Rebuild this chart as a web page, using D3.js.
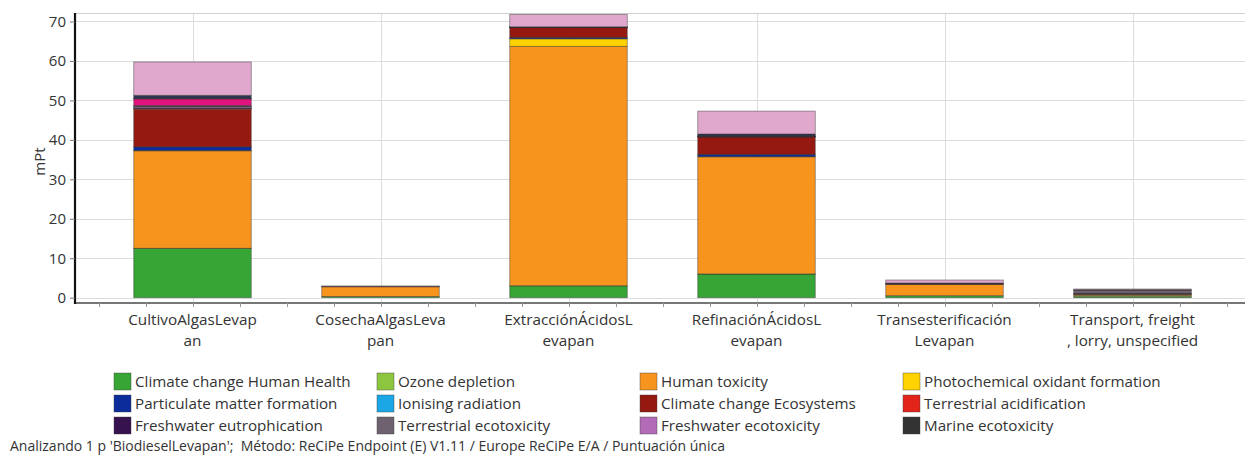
<!DOCTYPE html>
<html>
<head>
<meta charset="utf-8">
<script src="https://cdn.jsdelivr.net/npm/d3@7"></script>
<style>
    body { margin: 0; background: #fff; }
    text { font-family: "Segoe UI", "Open Sans", "Noto Sans", sans-serif; fill: #333; }
</style>
</head>
<body>
<div id="chart"></div>
<script>
// processes (x axis), two-line labels as SimaPro wraps them
var categories = ["CultivoAlgasLevapan", "CosechaAlgasLevapan", "ExtracciónÁcidosLevapan",
    "RefinaciónÁcidosLevapan", "TransesterificaciónLevapan", "Transport, freight, lorry, unspecified"];
var categoryLabels = [
    ["CultivoAlgasLevap", "an"],
    ["CosechaAlgasLeva", "pan"],
    ["ExtracciónÁcidosL", "evapan"],
    ["RefinaciónÁcidosL", "evapan"],
    ["Transesterificación", "Levapan"],
    ["Transport, freight", ", lorry, unspecified"]
];

// impact categories, bottom to top of the stack
var impactNames = ["Climate change Human Health", "Ozone depletion", "Human toxicity",
    "Photochemical oxidant formation", "Particulate matter formation", "Ionising radiation",
    "Climate change Ecosystems", "Terrestrial acidification", "Freshwater eutrophication",
    "Terrestrial ecotoxicity", "Freshwater ecotoxicity", "Marine ecotoxicity",
    "Agricultural land occupation", "Urban land occupation", "Natural land transformation",
    "Metal depletion", "Fossil depletion"];
var impactColors = ["#37a535", "#8cc63f", "#f7941e", "#ffd200", "#0c2c9c", "#1ba6e6",
    "#951811", "#e3241b", "#36124f", "#6e6170", "#b36bb7", "#333333",
    "#e0147c", "#4f5a7a", "#2f3d5e", "#2b3450", "#e1a8cd"];
// only the first 12 are shown in the legend (the rest is cut off in the original)
var legendCount = 12;

// mPt, one value per process
var ccHumanHealth   = [12.5, 0.30, 3.00, 6.00, 0.50, 0.25];
var ozoneDepletion  = [0.02, 0.00, 0.02, 0.02, 0.00, 0.30];
var humanToxicity   = [24.7, 2.45, 60.68, 29.68, 2.85, 0.30];
var photochemical   = [0.10, 0.00, 1.90, 0.05, 0.00, 0.00];
var particulate     = [0.90, 0.05, 0.30, 0.55, 0.05, 0.05];
var ionising        = [0.02, 0.00, 0.02, 0.02, 0.00, 0.00];
var ccEcosystems    = [9.50, 0.10, 2.50, 4.40, 0.15, 0.10];
var terrAcid        = [0.20, 0.00, 0.05, 0.05, 0.00, 0.05];
var fwEutroph       = [0.10, 0.00, 0.02, 0.02, 0.00, 0.05];
var terrEcotox      = [0.10, 0.00, 0.02, 0.02, 0.03, 0.70];
var fwEcotox        = [0.30, 0.00, 0.03, 0.05, 0.00, 0.10];
var marineEcotox    = [0.25, 0.00, 0.02, 0.04, 0.00, 0.10];
var agriLand        = [1.70, 0.00, 0.02, 0.05, 0.00, 0.00];
var urbanLand       = [0.05, 0.00, 0.01, 0.02, 0.00, 0.00];
var naturalLand     = [0.05, 0.00, 0.01, 0.02, 0.00, 0.00];
var metalDepletion  = [0.80, 0.00, 0.05, 0.50, 0.15, 0.00];
var fossilDepletion = [8.45, 0.06, 3.15, 5.80, 0.75, 0.20];

var seriesValues = [ccHumanHealth, ozoneDepletion, humanToxicity, photochemical, particulate,
    ionising, ccEcosystems, terrAcid, fwEutroph, terrEcotox, fwEcotox, marineEcotox,
    agriLand, urbanLand, naturalLand, metalDepletion, fossilDepletion];

var yTicks = [0, 10, 20, 30, 40, 50, 60, 70];
var footer = "Analizando 1 p 'BiodieselLevapan';  Método: ReCiPe Endpoint (E) V1.11 / Europe ReCiPe E/A / Puntuación única";

var width = 1248;
var height = 462;

var plot = { left: 75, right: 1245, top: 13, bottom: 303 };

var svg = d3.select("#chart")
    .append("svg")
    .attr("width", width)
    .attr("height", height);

// one row per process for the stack
var table = categories.map(function(c, i) {
    var row = { category: c };
    impactNames.forEach(function(n, j) {
        row[n] = seriesValues[j][i];
    });
    return row;
});

var stack = d3.stack().keys(impactNames);
var layers = stack(table);

var xScale = d3.scaleBand()
    .domain(categories)
    .range([98.5, 1226.5])
    .paddingInner(0.375)
    .paddingOuter(0.1875);

var yScale = d3.scaleLinear()
    .domain([-1.35, 72.15])
    .range([plot.bottom, plot.top]);

var colour = d3.scaleOrdinal()
    .domain(impactNames)
    .range(impactColors);

// grid
svg.append("g")
    .selectAll("line")
    .data(yTicks)
    .enter()
    .append("line")
    .attr("x1", plot.left)
    .attr("x2", plot.right)
    .attr("y1", function(d) { return Math.round(yScale(d)) + 0.5; })
    .attr("y2", function(d) { return Math.round(yScale(d)) + 0.5; })
    .attr("stroke", "#dcdcdc");

svg.append("g")
    .selectAll("line")
    .data(categories)
    .enter()
    .append("line")
    .attr("x1", function(d) { return Math.round(xScale(d) + xScale.bandwidth() / 2) + 0.5; })
    .attr("x2", function(d) { return Math.round(xScale(d) + xScale.bandwidth() / 2) + 0.5; })
    .attr("y1", plot.top)
    .attr("y2", plot.bottom)
    .attr("stroke", "#dcdcdc");

// top border
svg.append("line")
    .attr("x1", plot.left)
    .attr("x2", plot.right)
    .attr("y1", plot.top + 0.5)
    .attr("y2", plot.top + 0.5)
    .attr("stroke", "#cfcfcf");

// bars
var groups = svg.append("g")
    .selectAll("g")
    .data(layers)
    .enter()
    .append("g")
    .attr("fill", function(d) { return colour(d.key); });

groups.selectAll("rect")
    .data(function(d) { return d; })
    .enter()
    .filter(function(d) { return d[1] - d[0] > 0; })
    .append("rect")
    .attr("x", function(d) { return xScale(d.data.category); })
    .attr("width", xScale.bandwidth())
    .attr("y", function(d) { return yScale(d[1]); })
    .attr("height", function(d) { return yScale(d[0]) - yScale(d[1]); })
    .attr("stroke", "rgba(50,50,50,0.55)")
    .attr("stroke-width", 0.8);

// axes
var xAxisY = plot.bottom;
svg.append("line")
    .attr("x1", plot.left)
    .attr("x2", plot.right)
    .attr("y1", xAxisY)
    .attr("y2", xAxisY)
    .attr("stroke", "#777")
    .attr("stroke-width", 2);

// small ticks every quarter step along the x axis
var step = xScale.step();
var minorTicks = d3.range(0, categories.length * 4 + 1).map(function(k) {
    return xScale.range()[0] + k * step / 4;
});
svg.append("g")
    .selectAll("line")
    .data(minorTicks)
    .enter()
    .append("line")
    .attr("x1", function(d) { return Math.round(d) + 0.5; })
    .attr("x2", function(d) { return Math.round(d) + 0.5; })
    .attr("y1", xAxisY)
    .attr("y2", xAxisY + 4)
    .attr("stroke", "#999");

var yAxis = d3.axisLeft(yScale)
    .tickValues(yTicks)
    .tickSize(5)
    .tickPadding(4);

var yg = svg.append("g")
    .attr("transform", "translate(" + plot.left + ",0)")
    .call(yAxis);
yg.select(".domain")
    .attr("d", "M0," + plot.top + "V" + (plot.bottom + 1))
    .attr("stroke", "#111")
    .attr("stroke-width", 2.2);
yg.selectAll(".tick line").attr("stroke", "#777");
yg.selectAll(".tick text")
    .attr("font-size", "15px")
    .attr("fill", "#333");

svg.append("text")
    .attr("transform", "translate(45," + (yScale(35) + 2) + ") rotate(-90)")
    .attr("text-anchor", "middle")
    .attr("font-size", "15px")
    .text("mPt");

// x labels, two lines each
var xLabels = svg.append("g")
    .selectAll("text")
    .data(categories)
    .enter()
    .append("text")
    .attr("text-anchor", "middle")
    .attr("font-size", "15.3px")
    .attr("x", function(d) { return xScale(d) + xScale.bandwidth() / 2; })
    .attr("y", 325);

xLabels.each(function(d, i) {
    var t = d3.select(this);
    categoryLabels[i].forEach(function(line, j) {
        t.append("tspan")
            .attr("x", xScale(d) + xScale.bandwidth() / 2)
            .attr("dy", j === 0 ? 0 : 21)
            .text(line);
    });
});

// legend, 4 columns x 3 rows
var legend = svg.append("g")
    .attr("class", "legend");

var items = legend.selectAll("g")
    .data(impactNames.slice(0, legendCount))
    .enter()
    .append("g")
    .attr("transform", function(d, i) {
        var col = i % 4;
        var row = Math.floor(i / 4);
        return "translate(" + (114 + col * 263) + "," + (373 + row * 22) + ")";
    });

items.append("rect")
    .attr("width", 17)
    .attr("height", 17)
    .attr("fill", function(d) { return colour(d); })
    .attr("stroke", "rgba(60,60,60,0.5)")
    .attr("stroke-width", 0.8);

items.append("text")
    .attr("x", 21)
    .attr("y", 14)
    .attr("font-size", "15.2px")
    .text(function(d) { return d; });

svg.append("text")
    .attr("x", 10)
    .attr("y", 451)
    .attr("font-size", "14px")
    .style("white-space", "pre")
    .text(footer);
</script>
</body>
</html>
